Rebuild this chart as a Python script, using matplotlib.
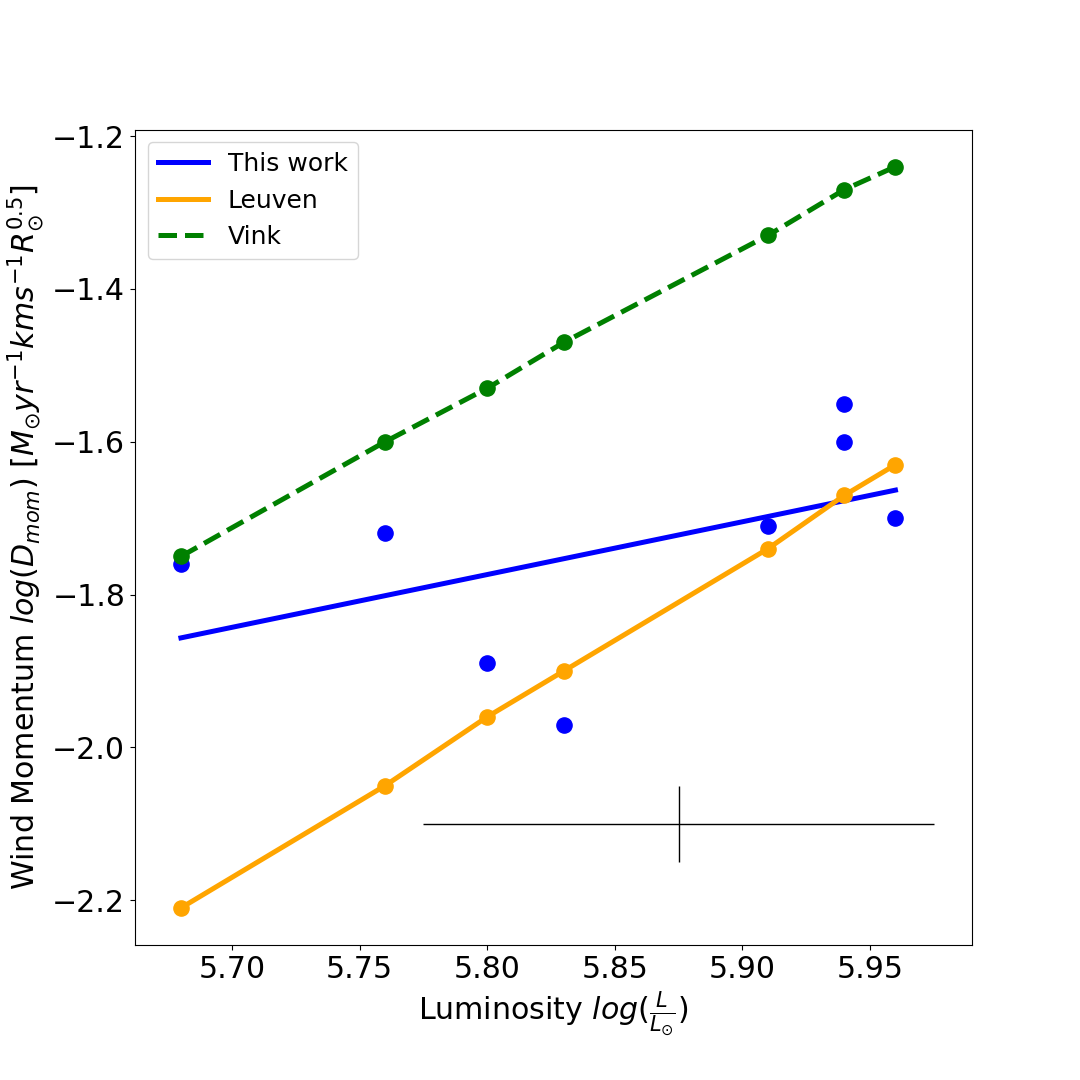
import numpy as np
import matplotlib
matplotlib.use("Agg")
import matplotlib.pyplot as plt

# ============================================================
# DATA
# ============================================================

lum = [5.68, 5.76, 5.80, 5.83, 5.91, 5.94, 5.96]

this_work_lum = [5.68, 5.76, 5.80, 5.83, 5.91, 5.94, 5.94, 5.96]
this_work_dmom = [-1.76, -1.72, -1.89, -1.97, -1.71, -1.55, -1.60, -1.70]

leuven_dmom = [-2.21, -2.05, -1.96, -1.90, -1.74, -1.67, -1.63]
vink_dmom = [-1.75, -1.60, -1.53, -1.47, -1.33, -1.27, -1.24]

err_x, err_y = 5.875, -2.10
err_dx, err_dy = 0.1, 0.05

# ============================================================
# LINEAR FIT OF THIS WORK
# ============================================================

coef = np.polyfit(this_work_lum, this_work_dmom, 1)
fit_x = np.array([min(this_work_lum), max(this_work_lum)])
fit_y = np.polyval(coef, fit_x)

# ============================================================
# PLOT
# ============================================================

fig = plt.figure(figsize=(10.8, 10.8), dpi=100)
fig.subplots_adjust(left=0.125, right=0.9, top=0.88, bottom=0.125)
ax = fig.add_subplot(111)

ax.plot(fit_x, fit_y, color="blue", linewidth=3.6, label="This work")
ax.plot(lum, leuven_dmom, color="orange", linewidth=3.6, label="Leuven")
ax.plot(lum, vink_dmom, color="green", linewidth=3.6, linestyle="--",
        label="Vink")

ax.scatter(this_work_lum, this_work_dmom, s=120, color="blue", zorder=3)
ax.scatter(lum, leuven_dmom, s=120, color="orange", zorder=3)
ax.scatter(lum, vink_dmom, s=120, color="green", zorder=3)

ax.errorbar([err_x], [err_y], xerr=err_dx, yerr=err_dy,
            color="k", linewidth=1)

ax.set_xlim(5.662, 5.990)

ax.set_xlabel(r"Luminosity $log(\frac{L}{L_{\odot}})$", fontsize=21.6)
ax.set_ylabel(r"Wind Momentum $log(D_{mom})$ $[M_{\odot}yr^{-1}kms^{-1}R_{\odot}^{0.5}]$",
              fontsize=21.6)

ax.tick_params(axis="both", labelsize=21.6)

ax.legend(loc="upper left", fontsize=18)

fig.savefig("out.png", dpi=100)
